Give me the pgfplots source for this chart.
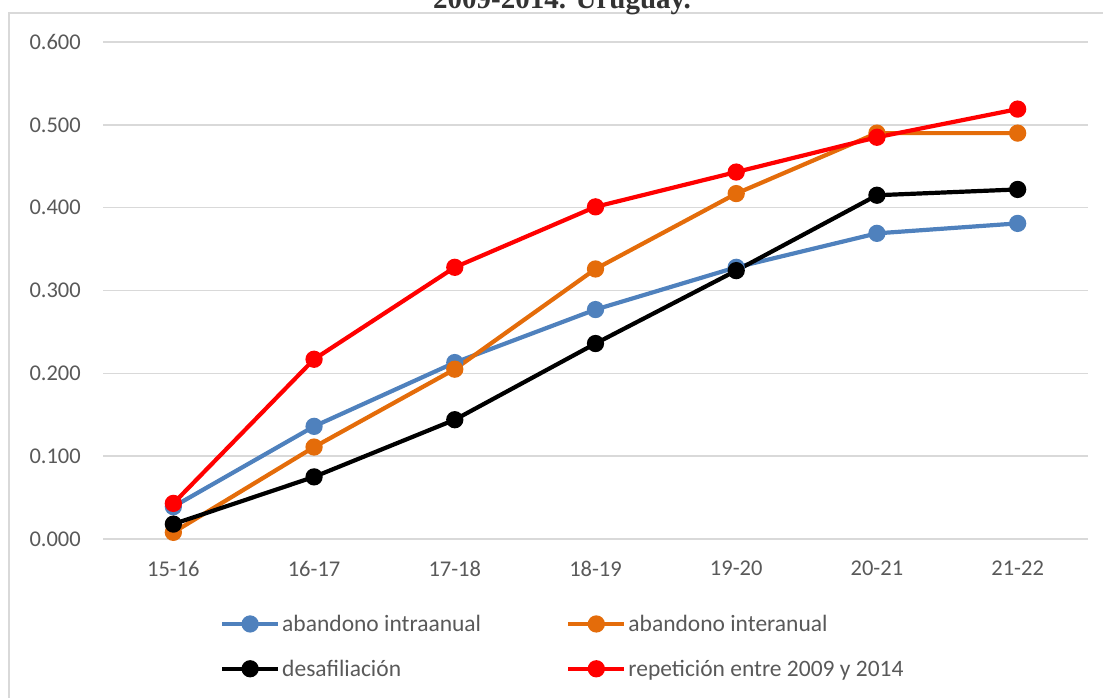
\documentclass[border=0pt]{standalone}
\usepackage{fontspec}
\setmainfont{Carlito}
\newfontfamily\titlefont{Liberation Serif}
\usepackage{pgfplots}
\pgfplotsset{compat=1.18}
\definecolor{serblue}{HTML}{4F81BD}
\definecolor{serorange}{HTML}{E46C0A}
\definecolor{serred}{HTML}{FF0000}
\definecolor{gridgray}{HTML}{D9D9D9}
\definecolor{labelgray}{HTML}{595959}

\begin{document}
\begin{tikzpicture}[x=1pt,y=1pt]
\clip (0,0) rectangle (1103,697);
% chart frame
\draw[gridgray, line width=2.5pt] (9,-5) -- (9,684) -- (1110,684);
% title
\node[anchor=base, font=\titlefont\bfseries\fontsize{29}{32}\selectfont, text=black!80] at (562,688) {2009-2014. Uruguay.};
\begin{axis}[
  at={(103pt,158pt)}, anchor=south west,
  width=985pt, height=497pt, scale only axis,
  xmin=-0.5, xmax=6.5, ymin=0, ymax=0.6,
  xtick={0,...,6},
  xticklabels={15-16,16-17,17-18,18-19,19-20,20-21,21-22},
  ytick={0,0.1,0.2,0.3,0.4,0.5,0.6},
  ymajorgrids, grid style={gridgray, line width=1.5pt},
  axis line style={draw=none},
  major tick length=0pt,
  tick label style={font=\fontsize{22.5}{27}\selectfont, text=labelgray},
  yticklabel style={anchor=east, inner sep=0pt, xshift=-22pt,
    /pgf/number format/.cd, fixed, fixed zerofill, precision=3, assume math mode=true},
  xticklabel style={anchor=north, inner sep=0pt, yshift=-22pt},
  clip=false,
  legend columns=2,
  legend cell align=left,
  legend style={draw=none, fill=none, at={(0.1188,-0.149)}, anchor=north west,
    inner sep=0pt, outer sep=0pt,
    font=\fontsize{23.5}{28}\selectfont, text=labelgray,
    nodes={inner sep=2pt}, row sep=23pt,
    /tikz/every even column/.append style={column sep=0pt}},
  legend image code/.code={
    \draw[mark repeat=2, mark phase=2, #1] plot coordinates {(0pt,0pt) (28pt,0pt) (56pt,0pt)};
  },
  every axis plot/.append style={line width=4.2pt, mark=*, mark size=6.5pt},
]
\addplot[serblue, mark options={fill=serblue}] coordinates
  {(0,0.039) (1,0.136) (2,0.213) (3,0.277) (4,0.328) (5,0.369) (6,0.381)};
\addlegendentry{\makebox[282pt][l]{abandono intraanual}}
\addplot[serorange, mark options={fill=serorange}] coordinates
  {(0,0.008) (1,0.111) (2,0.205) (3,0.326) (4,0.417) (5,0.490) (6,0.490)};
\addlegendentry{abandono interanual}
\addplot[black, mark options={fill=black}] coordinates
  {(0,0.018) (1,0.075) (2,0.144) (3,0.236) (4,0.324) (5,0.415) (6,0.422)};
\addlegendentry{\makebox[282pt][l]{desafiliación}}
\addplot[serred, mark options={fill=serred}] coordinates
  {(0,0.043) (1,0.217) (2,0.328) (3,0.401) (4,0.443) (5,0.485) (6,0.519)};
\addlegendentry{repetición entre 2009 y 2014}
\end{axis}
\end{tikzpicture}
\end{document}
